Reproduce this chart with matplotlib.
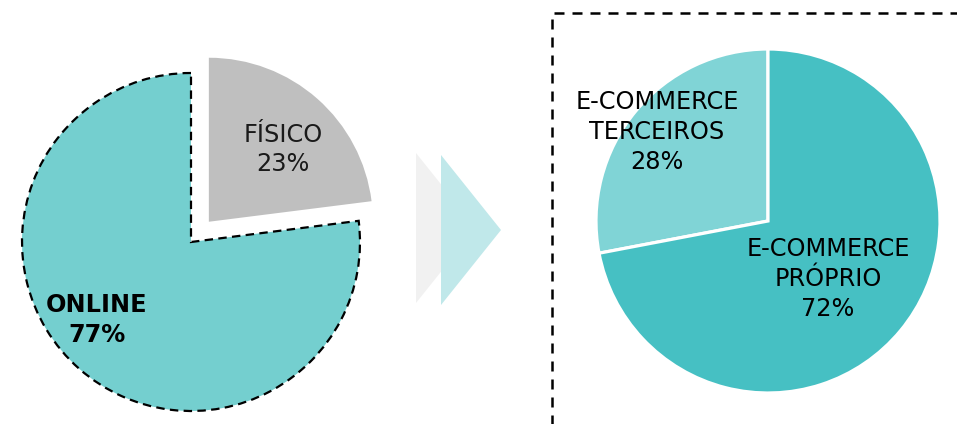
import matplotlib
matplotlib.use("Agg")
import matplotlib.pyplot as plt
from matplotlib.patches import Polygon
from matplotlib.lines import Line2D

plt.rcParams['font.family'] = ['DejaVu Sans']

# ---- data ----
left_labels = ["ONLINE", "FÍSICO"]
left_values = [77, 23]
left_colors = ["#74cfcf", "#bfbfbf"]

right_labels = ["E-COMMERCE\nTERCEIROS", "E-COMMERCE\nPRÓPRIO"]
right_values = [28, 72]
right_colors = ["#80d4d6", "#46c0c3"]

W, H = 957, 424
fig = plt.figure(figsize=(W / 100, H / 100), dpi=100)
ax = fig.add_axes([0, 0, 1, 1])


def Y(py):
    return H - py


# ---- left pie ----
lw_, _ = ax.pie(left_values, colors=left_colors, startangle=90, counterclock=True,
                center=(191, Y(242)), radius=169, explode=[0, 27],
                wedgeprops=dict(linewidth=0))
lw_[0].set_edgecolor("black")
lw_[0].set_linewidth(1.6)
lw_[0].set_linestyle((0, (3.8, 2.4)))
lw_[1].set_radius(164)

# ---- right pie ----
ax.pie(right_values, colors=right_colors, startangle=90, counterclock=True,
       center=(768, Y(221)), radius=172,
       wedgeprops=dict(linewidth=2.3, edgecolor="white"))

# ---- arrows ----
ax.add_patch(Polygon([(416, Y(153)), (476, Y(228)), (416, Y(303))],
                     closed=True, facecolor="#f1f1f1", edgecolor="none"))
ax.add_patch(Polygon([(441, Y(155)), (501, Y(230)), (441, Y(305))],
                     closed=True, facecolor="#c0e8ea", edgecolor="none"))

# ---- dashed box ----
ax.add_line(Line2D([552, 552, 980], [Y(440), Y(13), Y(13)], color="black",
                   linewidth=1.8, linestyle=(0, (4, 3.2))))

# ---- labels ----
fs = 17.3
ls = 1.3
ax.text(283, Y(149.5), f"{left_labels[1]}\n{left_values[1]}%", ha="center", va="center",
        fontsize=fs, color="#1a1a1a", linespacing=ls)
ax.text(97, Y(320), f"{left_labels[0]}\n{left_values[0]}%", ha="center", va="center",
        fontsize=fs, fontweight="bold", color="black", linespacing=ls)
ax.text(657, Y(132), f"{right_labels[0]}\n{right_values[0]}%", ha="center", va="center",
        fontsize=fs, color="black", linespacing=ls)
ax.text(828, Y(279), f"{right_labels[1]}\n{right_values[1]}%", ha="center", va="center",
        fontsize=fs, color="black", linespacing=ls)

ax.set_xlim(0, W)
ax.set_ylim(0, H)
ax.set_aspect("auto")
ax.axis("off")

fig.savefig("out.png", dpi=100)
